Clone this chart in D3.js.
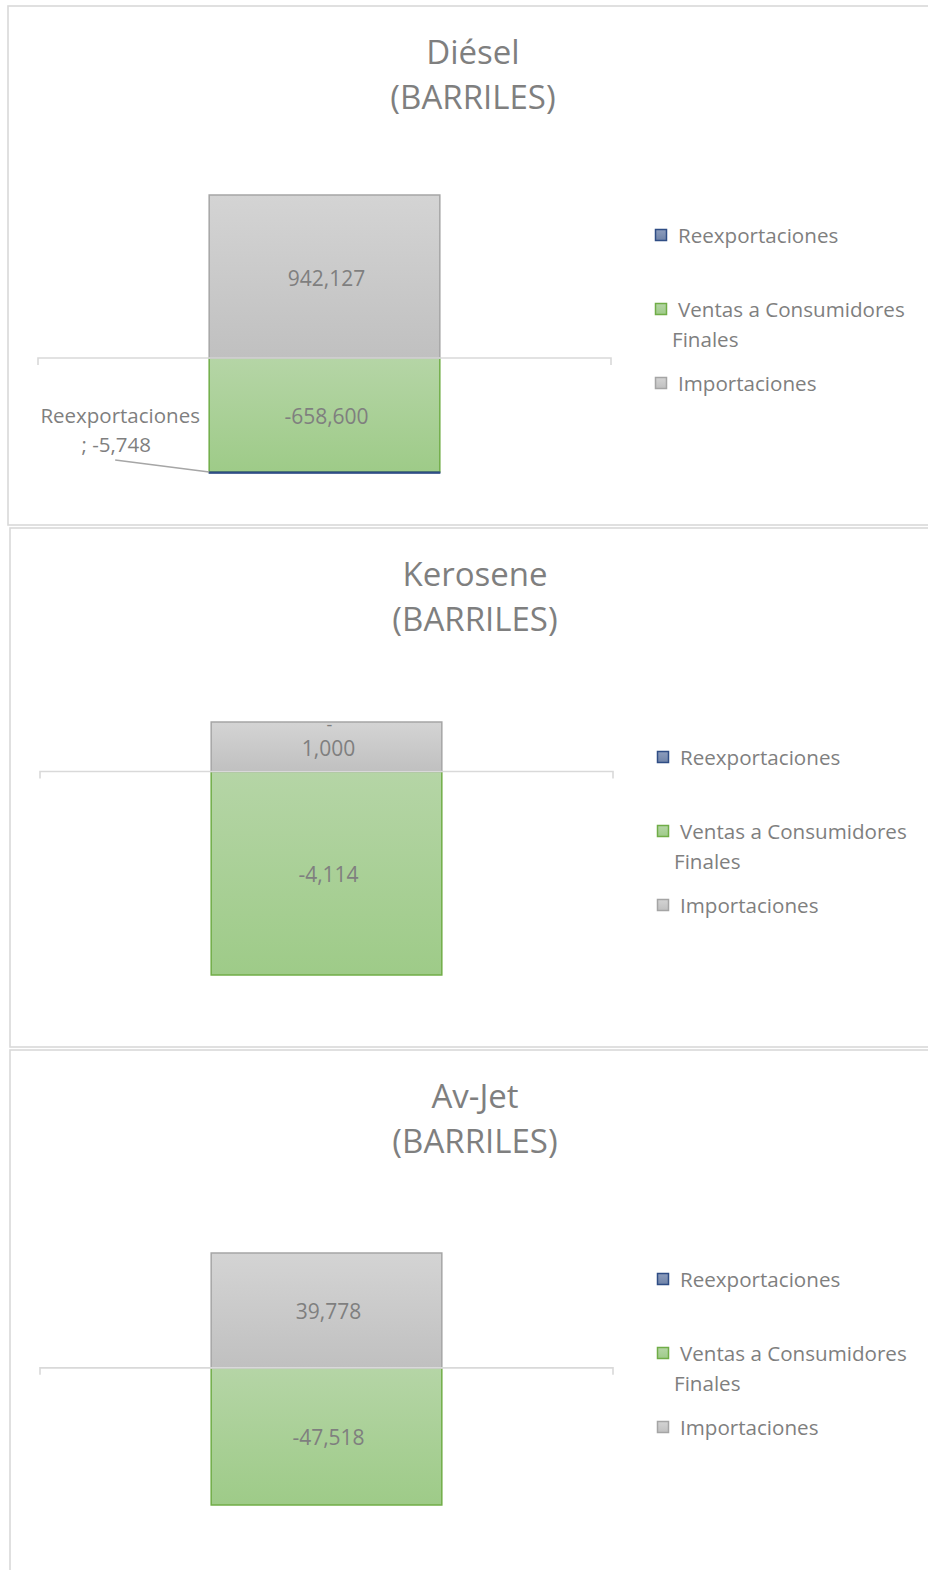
<!DOCTYPE html>
<html>
<head>
<meta charset="utf-8">
<script src="https://cdn.jsdelivr.net/npm/d3@7"></script>
<style>
  html, body { margin: 0; padding: 0; background: #fff; }
  svg { display: block; }
  text { font-family: "Open Sans", sans-serif; fill: #7f7f7f; }
</style>
</head>
<body>
<svg id="chart" width="928" height="1570"></svg>
<script>
// ---- data ----
const panels = ["Diésel", "Kerosene", "Av-Jet"];
const unitLabel = "(BARRILES)";
const seriesNames = ["Reexportaciones", "Ventas a Consumidores Finales", "Importaciones"];
const reexportaciones = [-5748, 0, null];
const ventas = [-658600, -4114, -47518];
const importaciones = [942127, 1000, 39778];

// ---- layout ----
const layout = [
  { left: 8,  top: 6,    bottom: 525,  yTop: 195,  yBot: 473 },
  { left: 10, top: 528,  bottom: 1047, yTop: 722,  yBot: 975 },
  { left: 10, top: 1050, bottom: 1600, yTop: 1253, yBot: 1505 }
];

const svg = d3.select("#chart");
const defs = svg.append("defs");

function grad(id, c1, c2) {
  const g = defs.append("linearGradient").attr("id", id)
    .attr("x1", 0).attr("y1", 0).attr("x2", 0).attr("y2", 1);
  g.append("stop").attr("offset", "0%").attr("stop-color", c1);
  g.append("stop").attr("offset", "100%").attr("stop-color", c2);
}
grad("gGray", "#d4d4d4", "#c0c0c0");
grad("gGreen", "#b5d5a6", "#9ecb88");
grad("gBlue", "#8d9dbd", "#6f83a8");

const styles = {
  "Reexportaciones": { fill: "url(#gBlue)", stroke: "#2f4d85" },
  "Ventas a Consumidores Finales": { fill: "url(#gGreen)", stroke: "#70ad47" },
  "Importaciones": { fill: "url(#gGray)", stroke: "#a5a5a5" }
};
const fmt0 = d3.format(",");
const fmt = v => fmt0(v).replace("\u2212", "-");

panels.forEach((name, i) => {
  const L = layout[i];
  const g = svg.append("g");

  // panel border
  g.append("rect")
    .attr("x", L.left).attr("y", L.top)
    .attr("width", 1000).attr("height", L.bottom - L.top)
    .attr("fill", "none").attr("stroke", "#d9d9d9").attr("stroke-width", 1.6);

  // title
  const cx = L.left + 465;
  g.append("text").attr("x", cx).attr("y", L.top + 58)
    .attr("text-anchor", "middle").attr("font-size", 33).text(name);
  g.append("text").attr("x", cx).attr("y", L.top + 103)
    .attr("text-anchor", "middle").attr("font-size", 33).text(unitLabel);

  // values for this panel
  const vals = [
    { s: seriesNames[0], v: reexportaciones[i] },
    { s: seriesNames[1], v: ventas[i] },
    { s: seriesNames[2], v: importaciones[i] }
  ];
  const negSum = d3.sum(vals, d => (d.v != null && d.v < 0) ? d.v : 0);
  const posSum = d3.sum(vals, d => (d.v != null && d.v > 0) ? d.v : 0);

  const y = d3.scaleLinear().domain([negSum, posSum]).range([L.yBot, L.yTop]);
  const x = d3.scaleBand().domain([name])
    .range([L.left + 30, L.left + 603]).padding(0.426);

  let posBase = 0, negBase = 0;
  const order = [vals[1], vals[0], vals[2]];
  const stacked = [];
  order.forEach(d => {
    if (d.v == null) return;
    if (d.v >= 0) { stacked.push({ ...d, y0: posBase, y1: posBase + d.v }); posBase += d.v; }
    else { stacked.push({ ...d, y0: negBase, y1: negBase + d.v }); negBase += d.v; }
  });

  // bars
  stacked.filter(d => d.v !== 0).forEach(d => {
    const top = y(Math.max(d.y0, d.y1)), bot = y(Math.min(d.y0, d.y1));
    const st = styles[d.s];
    g.append("rect")
      .attr("x", x(name)).attr("y", top)
      .attr("width", x.bandwidth()).attr("height", Math.max(bot - top, 1.2))
      .attr("fill", st.fill).attr("stroke", st.stroke).attr("stroke-width", d.s === seriesNames[0] ? 1.2 : 1.5);
  });

  // zero axis line with end ticks
  const x0 = L.left + 30, x1 = L.left + 603, yz = y(0);
  g.append("path")
    .attr("d", `M${x0},${yz + 7}V${yz}H${x1}V${yz + 7}`)
    .attr("fill", "none").attr("stroke", "#d9d9d9").attr("stroke-width", 1.6);

  // data labels
  const bc = x(name) + x.bandwidth() / 2;
  stacked.forEach(d => {
    if (d.s === seriesNames[0]) {
      if (d.v === 0) {
        g.append("text").attr("x", bc + 3).attr("y", y(posSum) + 2)
          .attr("text-anchor", "middle").attr("dominant-baseline", "central")
          .attr("font-size", 18).text("-");
      } else if (d.v != null) {
        const lx = x(name) - 89;
        const t = g.append("text").attr("text-anchor", "middle").attr("font-size", 20.5);
        t.append("tspan").attr("x", lx).attr("y", y(d.y1) - 58).attr("dominant-baseline", "central").text(d.s);
        t.append("tspan").attr("x", lx - 4).attr("y", y(d.y1) - 29).attr("dominant-baseline", "central").text("; " + fmt(d.v));
        g.append("line")
          .attr("x1", x(name) - 94).attr("y1", y(d.y1) - 13)
          .attr("x2", x(name)).attr("y2", y(d.y1) - 1)
          .attr("stroke", "#a6a6a6").attr("stroke-width", 1.5);
      }
      return;
    }
    g.append("text").attr("x", bc + 2).attr("y", y((d.y0 + d.y1) / 2) + 1)
      .attr("text-anchor", "middle").attr("dominant-baseline", "central")
      .attr("font-size", 21).text(fmt(d.v));
  });

  // legend
  const lg = g.append("g");
  const legRows = [
    { s: seriesNames[0], lines: ["Reexportaciones"], dy: 229 },
    { s: seriesNames[1], lines: ["Ventas a Consumidores", "Finales"], dy: 303 },
    { s: seriesNames[2], lines: ["Importaciones"], dy: 377 }
  ];
  legRows.forEach(r => {
    const st = styles[r.s];
    const yy = L.top + r.dy;
    lg.append("rect").attr("x", L.left + 647.5).attr("y", yy - 5.5)
      .attr("width", 11).attr("height", 11)
      .attr("fill", st.fill).attr("stroke", st.stroke).attr("stroke-width", 1.5);
    r.lines.forEach((ln, k) => {
      lg.append("text")
        .attr("x", k === 0 ? L.left + 670 : L.left + 664)
        .attr("y", yy + k * 29.5)
        .attr("dominant-baseline", "central")
        .attr("font-size", 20.6).text(ln);
    });
  });
});
</script>
</body>
</html>
